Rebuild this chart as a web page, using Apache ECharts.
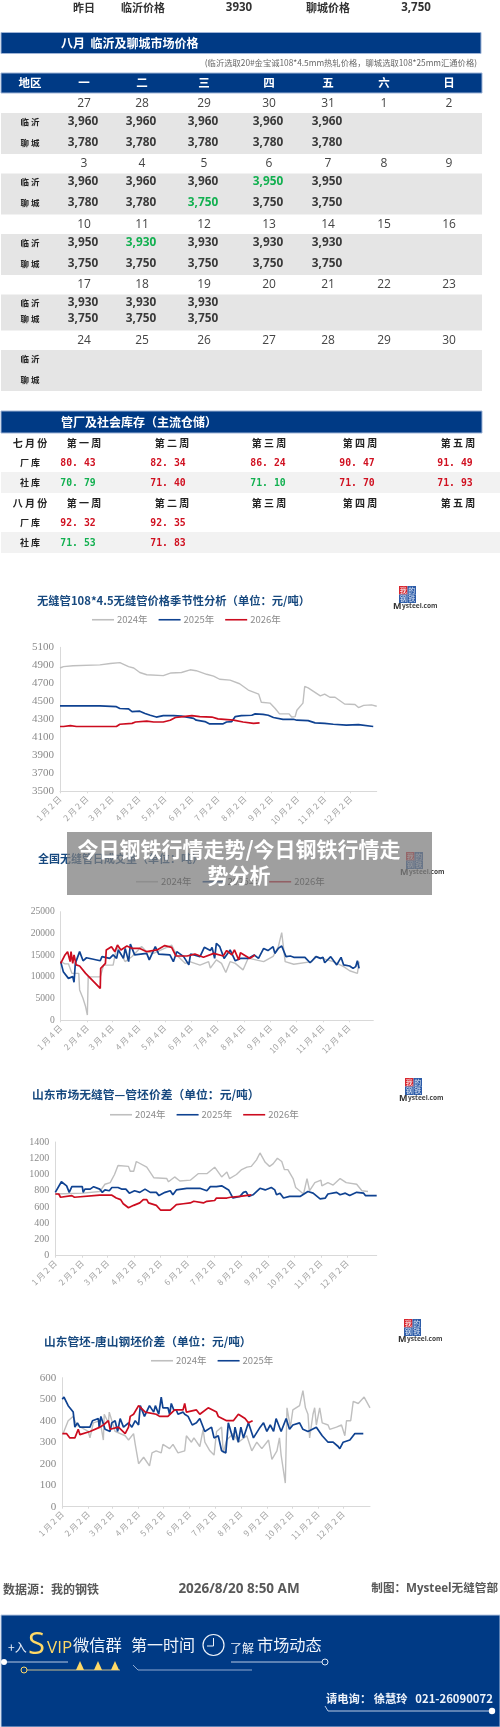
<!DOCTYPE html>
<html><head><meta charset="utf-8">
<style>html,body{margin:0;padding:0;background:#fff}#c{width:500px;height:1727px}</style>
<script src="https://cdn.jsdelivr.net/npm/echarts@6/dist/echarts.min.js"></script>
</head><body><div id="c"></div>
<script>
// ---------- table data ----------
const weekDates=[[27,28,29,30,31,1,2],[3,4,5,6,7,8,9],[10,11,12,13,14,15,16],[17,18,19,20,21,22,23],[24,25,26,27,28,29,30]];
const linyiPrices=[[3960,3960,3960,3960,3960],[3960,3960,3960,3950,3950],[3950,3930,3930,3930,3930],[3930,3930,3930],[]];
const liaochengPrices=[[3780,3780,3780,3780,3780],[3780,3780,3750,3750,3750],[3750,3750,3750,3750,3750],[3750,3750,3750],[]];
const weekdayHeaders=['一','二','三','四','五','六','日'];
const weekHeaders=['第 一 周','第 二 周','第 三 周','第 四 周','第 五 周'];
const julyFactory=[80.43,82.34,86.24,90.47,91.49];
const julySocial=[70.79,71.40,71.10,71.70,71.93];
const augFactory=[92.32,92.35];
const augSocial=[71.53,71.83];

// ---------- chart data: [days since first tick, value] ----------
const tickDays=[0,31,60,91,121,152,182,213,244,274,305,335];
const price2024=[[0,4870],[4,4885],[15,4895],[46,4905],[58,4920],[69,4930],[79,4885],[85,4870],[92,4820],[100,4795],[119,4785],[128,4815],[140,4820],[150,4850],[157,4840],[169,4800],[177,4780],[184,4745],[196,4735],[207,4695],[217,4625],[229,4580],[232,4490],[242,4480],[248,4420],[253,4360],[264,4360],[267,4325],[271,4330],[273,4400],[280,4480],[282,4665],[286,4650],[300,4560],[305,4580],[311,4545],[317,4545],[328,4470],[340,4465],[344,4430],[350,4455],[359,4460],[365,4445]];
const price2025=[[0,4450],[46,4450],[48,4440],[65,4440],[69,4420],[79,4415],[83,4385],[85,4400],[92,4390],[98,4365],[104,4345],[111,4325],[112,4345],[119,4340],[131,4340],[140,4335],[154,4310],[157,4290],[167,4275],[172,4250],[188,4250],[192,4270],[198,4275],[202,4330],[209,4340],[221,4345],[225,4360],[234,4355],[240,4345],[246,4320],[257,4300],[269,4300],[273,4290],[286,4285],[294,4260],[305,4255],[315,4245],[330,4235],[344,4240],[361,4220]];
const price2026=[[0,4220],[4,4220],[12,4230],[19,4220],[65,4220],[69,4245],[83,4255],[87,4270],[100,4280],[108,4270],[119,4270],[127,4290],[133,4320],[142,4330],[152,4340],[161,4330],[175,4325],[182,4305],[200,4290],[211,4270],[223,4255],[230,4260]];

const volume2024=[[0,13500],[5,13000],[9,13000],[13,10800],[21,10800],[22,7000],[26,5000],[29,3100],[31,1200],[32,10000],[46,10000],[50,12700],[61,12700],[65,16900],[75,13500],[83,14700],[94,17000],[100,15800],[108,15400],[129,17300],[135,15000],[145,13100],[150,13500],[162,12700],[172,13500],[174,12000],[181,13900],[187,13100],[192,11000],[197,13500],[203,13100],[212,11600],[218,14300],[236,13500],[247,14700],[253,16900],[257,20200],[261,13500],[271,12900],[292,13500],[296,14700],[317,13500],[329,12350],[336,11400],[345,10800],[347,13500]];
const volume2025=[[0,13500],[3,11200],[9,9650],[14,10050],[15.5,8750],[17,13100],[22,15800],[26,13700],[30,14400],[46,13700],[48,14650],[57,14250],[61,15050],[65,14250],[67,16200],[73,14250],[75,16550],[79,13500],[81,17550],[86,15050],[100,15400],[103,13900],[110,16950],[114,15250],[127,15050],[131,13500],[135,15800],[143,14650],[149,12750],[151,15250],[162,14650],[167,16800],[174,16050],[176,16800],[179,14250],[181,17700],[185,16950],[190,14250],[197,16200],[203,13700],[209,14250],[218,14250],[225,15050],[230,14250],[236,16550],[241,16050],[247,16950],[249,15400],[253,16550],[257,17100],[262,14650],[267,14800],[271,14500],[284,14500],[290,13250],[297,14650],[302,14250],[305,14500],[307,13250],[314,14650],[321,12750],[326,14500],[329,12750],[336,12500],[340,11950],[343,12350],[345,13700],[347,11950]];
const volume2026=[[0,13100],[5,15050],[8,15800],[11,13500],[12,15800],[14,13100],[15.5,15050],[18,12750],[22,12500],[29,10800],[46,7350],[46.5,11950],[52,13100],[53,16200],[59,16950],[63,15800],[66,17350],[70,16200],[77,17100],[83,16550],[92,16550],[100,15800],[112,16200],[121,17200],[129,16800],[134,14800],[147,14800],[156,15250],[166,14500],[178,15400],[189,14800],[193,16050],[199,15050],[202,16200],[207,13900],[209,15550],[220,14250],[226,15050]];

const spread2024=[[0,760],[32,770],[51,790],[57,880],[63,900],[68,1000],[72,1110],[84,1100],[86,1040],[90,1040],[93,1160],[105,1090],[113,960],[128,950],[130,910],[137,970],[143,920],[155,930],[164,1010],[174,1010],[183,1090],[191,970],[197,1030],[200,950],[208,1000],[214,1060],[220,1090],[225,1100],[231,1180],[235,1265],[241,1150],[246,1100],[250,1130],[255,1200],[260,1160],[263,1060],[267,1060],[273,950],[276,840],[285,760],[289,950],[292,800],[298,900],[305,930],[306,860],[313,900],[319,870],[327,950],[334,900],[346,880],[352,800],[359,790]];
const spread2025=[[0,780],[7,910],[13,860],[16,780],[19,850],[31,850],[32,780],[34,820],[40,820],[44,850],[51,820],[54,780],[57,810],[62,800],[65,840],[72,840],[76,820],[81,820],[85,770],[91,800],[97,780],[103,820],[109,780],[116,780],[119,740],[126,780],[132,800],[135,750],[139,810],[151,830],[166,830],[174,800],[178,850],[185,850],[191,860],[199,810],[204,710],[212,730],[216,780],[219,790],[222,730],[227,750],[229,770],[235,830],[241,810],[248,840],[252,810],[254,750],[258,770],[262,710],[269,730],[281,730],[290,790],[296,770],[304,700],[310,710],[313,760],[323,780],[327,750],[333,770],[338,740],[346,780],[354,770],[356,740],[369,740]];
const spread2026=[[0,760],[4,760],[6,720],[19,740],[22,720],[51,745],[65,745],[70,710],[75,690],[78,640],[84,590],[90,620],[97,650],[101,690],[105,690],[107,650],[116,620],[121,560],[132,560],[135,590],[139,630],[147,640],[149,660],[155,650],[159,670],[170,650],[174,670],[183,680],[185,710],[197,710],[201,720],[212,730],[225,750]];

const billet2024=[[1,340],[7,400],[13,420],[17,380],[31,350],[33,320],[37,390],[45,400],[49,310],[50,430],[55,390],[56,440],[63,350],[75,330],[79,310],[85,340],[87,290],[91,200],[97,230],[104,190],[107,250],[112,260],[118,250],[120,290],[128,270],[132,290],[138,250],[146,260],[148,330],[154,300],[157,320],[164,280],[168,360],[170,300],[176,260],[181,240],[184,350],[190,370],[192,250],[196,310],[204,340],[210,300],[220,330],[226,260],[232,300],[238,270],[246,310],[250,220],[256,260],[259,320],[261,240],[266,110],[268,460],[272,370],[275,450],[283,470],[287,540],[290,460],[293,430],[295,320],[299,430],[301,460],[303,380],[307,460],[310,390],[317,380],[319,360],[327,370],[333,380],[337,330],[339,400],[344,400],[347,490],[353,480],[360,510],[367,460]];
const billet2025=[[0,500],[2,510],[7,470],[13,440],[15,370],[18,390],[21,370],[33,370],[36,400],[43,410],[44,370],[46,420],[51,360],[57,350],[59,390],[63,400],[66,350],[69,410],[73,370],[79,390],[83,370],[87,400],[91,380],[93,470],[98,420],[104,470],[109,440],[111,470],[115,430],[118,510],[120,460],[126,460],[128,430],[130,480],[133,450],[136,450],[138,430],[144,440],[146,430],[150,420],[155,380],[160,390],[164,410],[170,350],[178,370],[181,320],[186,330],[190,260],[195,250],[198,390],[204,310],[206,370],[210,300],[213,370],[216,320],[222,390],[228,320],[236,370],[240,390],[244,350],[248,380],[252,350],[255,410],[261,350],[267,410],[271,360],[275,380],[283,390],[287,360],[293,350],[303,370],[310,330],[317,300],[323,300],[329,280],[331,270],[335,300],[343,310],[349,340],[359,340]];
const billet2026=[[0,340],[5,340],[9,320],[15,320],[19,360],[21,335],[33,350],[45,370],[49,380],[55,400],[57,360],[67,370],[75,340],[79,370],[81,420],[85,430],[91,470],[99,440],[112,430],[116,420],[126,420],[134,450],[144,450],[146,480],[148,440],[160,450],[164,430],[174,460],[184,440],[186,420],[196,400],[204,400],[210,430],[218,410],[222,390],[227,400]];

const legend3=['2024年','2025年','2026年'];
const legend2=['2024年','2025年'];
const monthLabels=(d)=>['1','2','3','4','5','6','7','8','9','10','11','12'].map(m=>m+' 月 '+d+' 日');
const chartTitles=['无缝管108*4.5无缝管价格季节性分析（单位：元/吨）','全国无缝管日成交量（单位：吨）','山东市场无缝管—管坯价差（单位：元/吨）','山东管坯-唐山钢坯价差（单位：元/吨）'];

// ---------- style constants ----------
const NAVY='#003a85',GRAY='#bfbfbf',BLUE='#0f4291',RED='#cc0c1f',GREEN='#12b050',DOWN='#d01020';
const CJK='"Noto Sans CJK SC","Noto Sans",sans-serif', OS='"Open Sans",'+CJK;
const els=[];
const T=(x,y,text,size,color,o={})=>els.push({type:'text',x,y,z:o.z||2,silent:true,style:{text:String(text),fill:color,
  font:(o.weight||'normal')+' '+size+'px '+(o.family||CJK),textAlign:o.align||'center',textVerticalAlign:'middle'}});
const R=(x,y,w,h,fill,o={})=>els.push({type:'rect',z:o.z||0,silent:true,shape:{x,y,width:w,height:h},style:{fill,stroke:o.stroke||null,lineWidth:o.stroke?1:0,opacity:o.opacity==null?1:o.opacity}});
const L=(pts,color,w=1)=>els.push({type:'polyline',z:3,silent:true,shape:{points:pts},style:{stroke:color,lineWidth:w,fill:null}});
const C=(x,y,r,fill,stroke,w=1)=>els.push({type:'circle',z:4,silent:true,shape:{cx:x,cy:y,r},style:{fill:fill||NAVY,stroke:stroke||null,lineWidth:w}});
const P=(pts,fill)=>els.push({type:'polygon',z:3,silent:true,shape:{points:pts},style:{fill}});

// ---------- top line ----------
const dark='#333';
T(84,8,'昨日',11,dark,{weight:'bold'});T(143,8,'临沂价格',11,dark,{weight:'bold'});
T(239,8,'3930',11.5,dark,{weight:'bold',family:OS});T(328,8,'聊城价格',11,dark,{weight:'bold'});T(416,8,'3,750',11.5,dark,{weight:'bold',family:OS});

// ---------- price calendar ----------
R(1,32.5,480,21,NAVY,{stroke:'#9fb4d6'});
T(61,43,'八月  临沂及聊城市场价格',12,'#fff',{weight:'bold',align:'left'});
T(477,63,'(临沂选取20#金宝诚108*4.5mm热轧价格，聊城选取108*25mm汇通价格)',8.3,'#666',{align:'right'});
R(1,73,481,20,NAVY,{stroke:'#9fb4d6'});
const dayCols=[84,142,204,269,328,384,449];
T(30,83,'地区',11.5,'#fff',{weight:'bold'});
weekdayHeaders.forEach((h,i)=>T(dayCols[i],83,h,11.5,'#fff',{weight:'bold'}));
const rowTops=[93,153.5,214,274.5,330];
const bandH=[41,41,41,36,41];
const priceText=v=>v.toLocaleString('en-US');
const cellColor=(list,w,i)=>{const prev=i>0?list[w][i-1]:(w>0?list[w-1][list[w-1].length-1]:null);return prev!=null&&list[w][i]<prev?GREEN:'#3a3a3a';};
weekDates.forEach((row,w)=>{
  const t=rowTops[w], b=t+20;
  R(1,b,481,bandH[w],'#e5e5e5');
  row.forEach((d,i)=>T(dayCols[i],t+10.5,d,12,'#444',{family:OS}));
  const y1=b+8.5, y2=b+bandH[w]-11.5;
  T(30,y1,'临 沂',8.5,'#222',{weight:'bold'});T(30,y2,'聊 城',8.5,'#222',{weight:'bold'});
  linyiPrices[w].forEach((v,i)=>T(dayCols[i]-1,y1,priceText(v),11.8,cellColor(linyiPrices,w,i),{family:OS,weight:'bold'}));
  liaochengPrices[w].forEach((v,i)=>T(dayCols[i]-1,y2,priceText(v),11.8,cellColor(liaochengPrices,w,i),{family:OS,weight:'bold'}));
});

// ---------- inventory ----------
R(1,411,481,22,NAVY,{stroke:'#9fb4d6'});
T(61,422,'管厂及社会库存（主流仓储）',12,'#fff',{weight:'bold',align:'left'});
const wkCols=[84,172,269,360,458], valCols=[78,168,268,357,455];
const stockText=v=>v.toFixed(2).replace('.','. ');
const stockRow=(y,label,vals,firstColor)=>{
  T(30,y,label,9,'#222',{weight:'bold'});
  vals.forEach((v,i)=>T(valCols[i],y,stockText(v),9.8,i===0?firstColor:(v<vals[i-1]?GREEN:DOWN),{family:'"DejaVu Sans Mono",monospace',weight:'bold'}));
};
R(1,472,499,21,'#f2f2f2');R(1,532,499,21,'#f2f2f2');
T(30,443,'七 月 份',10,'#222',{weight:'bold'});T(30,503,'八 月 份',10,'#222',{weight:'bold'});
weekHeaders.forEach((h,i)=>{T(wkCols[i],443,h,10,'#222',{weight:'bold'});T(wkCols[i],503,h,10,'#222',{weight:'bold'});});
stockRow(463,'厂 库',julyFactory,DOWN);stockRow(483,'社 库',julySocial,GREEN);
stockRow(523,'厂 库',augFactory,DOWN);stockRow(543,'社 库',augSocial,GREEN);

// ---------- chart decorations ----------
const logo=(x,y,z)=>{
  R(x,y,8.5,8.5,'#d8262e',{z:1});R(x+8.5,y,8.5,8.5,'#2d5ca8',{z:1});R(x,y+8.5,8.5,8.5,'#2d5ca8',{z:1});R(x+8.5,y+8.5,8.5,8.5,'#2d5ca8',{z:1});
  T(x+4.2,y+4.2,'我',7,'#fff');T(x+12.7,y+4.2,'的',7,'#dfe8f5');T(x+4.2,y+12.7,'钢',7,'#dfe8f5');T(x+12.7,y+12.7,'铁',7,'#dfe8f5');
  els.push({type:'text',x:x-6,y:y+20,z:2,silent:true,style:{text:'M',fill:'#333',font:'bold 9px "Open Sans"',textVerticalAlign:'middle'}});
  els.push({type:'text',x:x+3,y:y+20.5,z:2,silent:true,style:{text:'ysteel.com',fill:'#444',font:'bold 6.6px "Open Sans"',textVerticalAlign:'middle'}});
};
logo(399,586);logo(406,852);logo(405,1078);logo(404,1319);
const titleC='#17497f';
T(37,601,chartTitles[0],11.3,titleC,{weight:'bold',align:'left'});
T(38,859,chartTitles[1],11,titleC,{weight:'bold',align:'left'});
T(32,1095,chartTitles[2],11.8,titleC,{weight:'bold',align:'left'});
T(44,1342,chartTitles[3],11.7,titleC,{weight:'bold',align:'left'});

// ---------- translucent caption ----------
R(67,832,365,63,'#7d7d7d',{z:100,opacity:0.74});
T(239,849,'今日钢铁行情走势/今日钢铁行情走',21,'#fff',{z:101,weight:'bold'});
T(239,875,'势分析',21,'#fff',{z:101,weight:'bold'});

// ---------- footer ----------
T(3,1589,'数据源：我的钢铁',12,'#595959',{weight:'bold',align:'left'});
T(239,1589,'2026/8/20 8:50 AM',13.5,'#595959',{weight:'bold',family:OS});
T(498,1589,'制图：Mysteel无缝管部',11.6,'#595959',{weight:'bold',align:'right',family:OS});
R(1,1615,499,112,NAVY,{stroke:'#b9c9e3'});
const gold='#ffd966';
T(8,1647,'+入',12,'#e8eef8',{align:'left'});
T(28,1645,'S',31,gold,{align:'left',family:'"Open Sans"'});
T(47,1648,'VIP',17,gold,{align:'left',family:'"Liberation Sans Narrow","Open Sans"'});
T(73,1645,'微信群',16.3,'#eef3fa',{align:'left'});
T(131,1645,'第一时间',16,'#eef3fa',{align:'left'});
C(213.5,1645,10.5,'rgba(0,0,0,0)','#eef3fa',1.2);L([[213.5,1638],[213.5,1646],[207,1646]],'#eef3fa',1);
T(230,1648,'了解',12,'#eef3fa',{align:'left'});
T(257,1645,'市场动态',16.2,'#eef3fa',{align:'left'});
L([[4,1662],[68,1662]],'#b9c9e3');C(4,1662,3,'#fff');
L([[24,1670],[120,1670]],'#c9bd8c');C(24,1670,3,NAVY,gold,1);
[80,98,115].forEach(x=>P([[x-4,1670],[x,1661],[x+4,1670]],gold));
L([[133,1665],[138,1670],[252,1670]],'#8fa8d0');
L([[231,1662],[322,1662]],'#b9c9e3');C(325,1662,3,NAVY,'#dfe8f5',1);
T(326,1699,'请电询： 徐慧玲   021-26090072',11.3,'#eef3fa',{align:'left',weight:'bold'});
L([[325,1706],[328,1711],[490,1711]],'#b9c9e3');C(492,1711,3.2,'#fff');

// ---------- charts ----------
const grids=[
 {left:60,top:647.3,width:316.7,height:144},
 {left:60.7,top:911.7,width:312.6,height:108.6},
 {left:55.3,top:1142,width:321.4,height:113.7},
 {left:62.3,top:1377.7,width:307.7,height:129}];
const yConf=[[3500,5100,200],[0,25000,5000],[0,1400,200],[0,600,100]];
const xMax=[365,363.5,369,367];
const xDay=[2,4,2,2];
const yFont=['"Liberation Sans Narrow"','"Liberation Serif"','"Liberation Serif"','"Liberation Sans Narrow"'];
const ySize=[11,9.6,10,11];
const xAxes=grids.map((g,i)=>{const labels=monthLabels(xDay[i]);return {gridIndex:i,type:'value',min:0,max:xMax[i],
  splitLine:{show:false},axisLine:{lineStyle:{color:'#d9d9d9',width:1}},
  axisTick:{show:true,length:2,lineStyle:{color:'#d9d9d9'},customValues:tickDays},
  axisLabel:{customValues:tickDays,rotate:45,fontSize:8.3,color:'#a3a3a3',margin:6,fontFamily:CJK,hideOverlap:false,
    formatter:v=>labels[tickDays.indexOf(v)]}};});
const yAxes=grids.map((g,i)=>({gridIndex:i,type:'value',min:yConf[i][0],max:yConf[i][1],interval:yConf[i][2],
  splitLine:{show:false},axisTick:{show:false},axisLine:{show:true,lineStyle:{color:'#d9d9d9',width:1}},
  axisLabel:{fontSize:ySize[i],color:'#8a8a8a',margin:6,fontFamily:yFont[i],formatter:v=>String(v)}}));
const line=(name,data,i,color,width)=>({name,type:'line',xAxisIndex:i,yAxisIndex:i,data,showSymbol:false,symbol:'none',smooth:false,
  lineStyle:{color,width},itemStyle:{color},silent:true,animation:false});
const sets=[[price2024,price2025,price2026],[volume2024,volume2025,volume2026],[spread2024,spread2025,spread2026],[billet2024,billet2025,billet2026]];
const series=[];
sets.forEach((s,i)=>{series.push(line(legend3[0],s[0],i,GRAY,1.4));series.push(line(legend3[1],s[1],i,BLUE,1.7));series.push(line(legend3[2],s[2],i,RED,1.7));});
const legendAt=(left,top,data,color)=>({left,top,data,padding:0,icon:'rect',itemWidth:22,itemHeight:1.6,itemGap:11,selectedMode:false,textStyle:{fontSize:9.5,color,fontFamily:'"Liberation Sans Narrow",'+CJK,padding:[0,0,0,-2]}});
const legends=[legendAt(92,615,legend3,'#8c8c8c'),legendAt(136,877,legend3,'#404040'),legendAt(110,1110,legend3,'#8c8c8c'),legendAt(151,1356,legend2,'#8c8c8c')];

const chart=echarts.init(document.getElementById('c'),null,{width:500,height:1727});
chart.setOption({animation:false,backgroundColor:'#fff',grid:grids,xAxis:xAxes,yAxis:yAxes,series,legend:legends,graphic:{elements:els}});
</script></body></html>
